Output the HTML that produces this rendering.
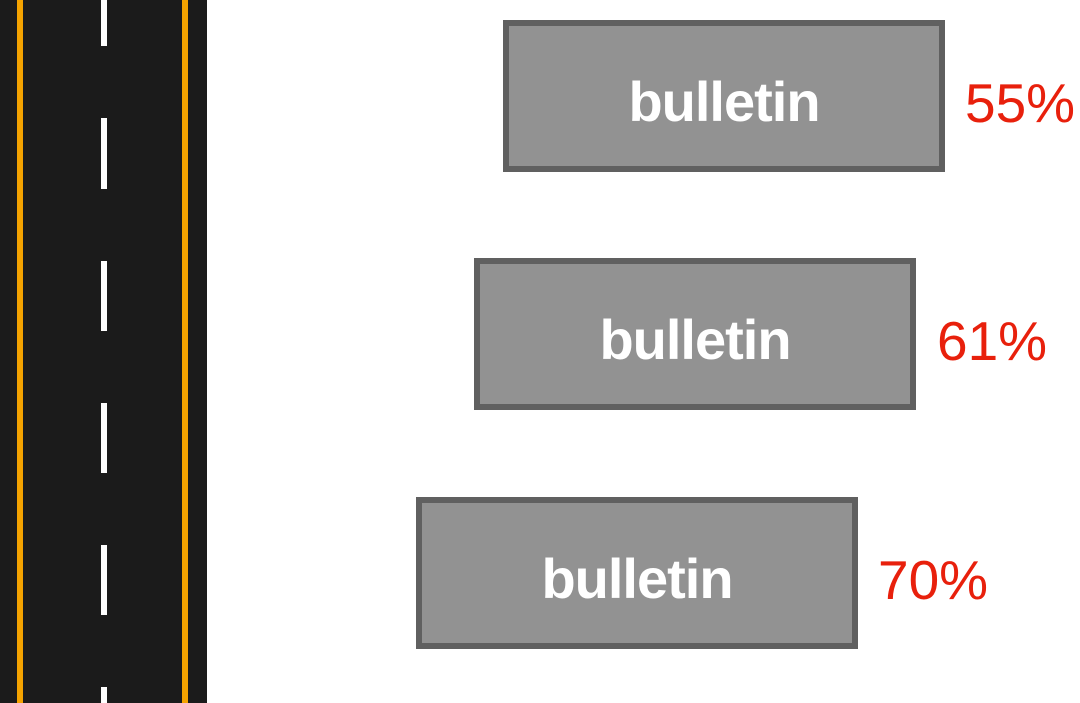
<!DOCTYPE html>
<html><head><style>
html,body{margin:0;width:1080px;height:703px;background:#fff;position:relative;overflow:hidden;font-family:"Liberation Sans",sans-serif}
.road{position:absolute;left:0;top:0;width:207px;height:703px;background:#1b1b1b;overflow:hidden}
.o{position:absolute;top:0;width:6px;height:703px;background:#f5a300}
.d{position:absolute;left:101px;width:6px;background:#fff}
.box{position:absolute;width:430px;height:140px;border:6px solid #606060;background:#929292;color:#fff;font-weight:bold;font-size:56px;letter-spacing:-1px;display:flex;align-items:center;justify-content:center;box-sizing:content-box}
.box span{position:relative;top:5px}
.p{position:absolute;color:#e8200c;font-size:55px;line-height:1}
</style></head><body>
<div class="road">
<div class="o" style="left:17px"></div><div class="o" style="left:182px"></div>
<div class="d" style="top:0;height:46px"></div>
<div class="d" style="top:118px;height:71px"></div>
<div class="d" style="top:261px;height:70px"></div>
<div class="d" style="top:403px;height:70px"></div>
<div class="d" style="top:545px;height:70px"></div>
<div class="d" style="top:687px;height:16px"></div>
</div>
<div class="box" style="left:503px;top:20px"><span>bulletin</span></div>
<div class="p" style="left:965px;top:76px">55%</div>
<div class="box" style="left:474px;top:258px"><span>bulletin</span></div>
<div class="p" style="left:937px;top:314px">61%</div>
<div class="box" style="left:416px;top:497px"><span>bulletin</span></div>
<div class="p" style="left:878px;top:553px">70%</div>
</body></html>
